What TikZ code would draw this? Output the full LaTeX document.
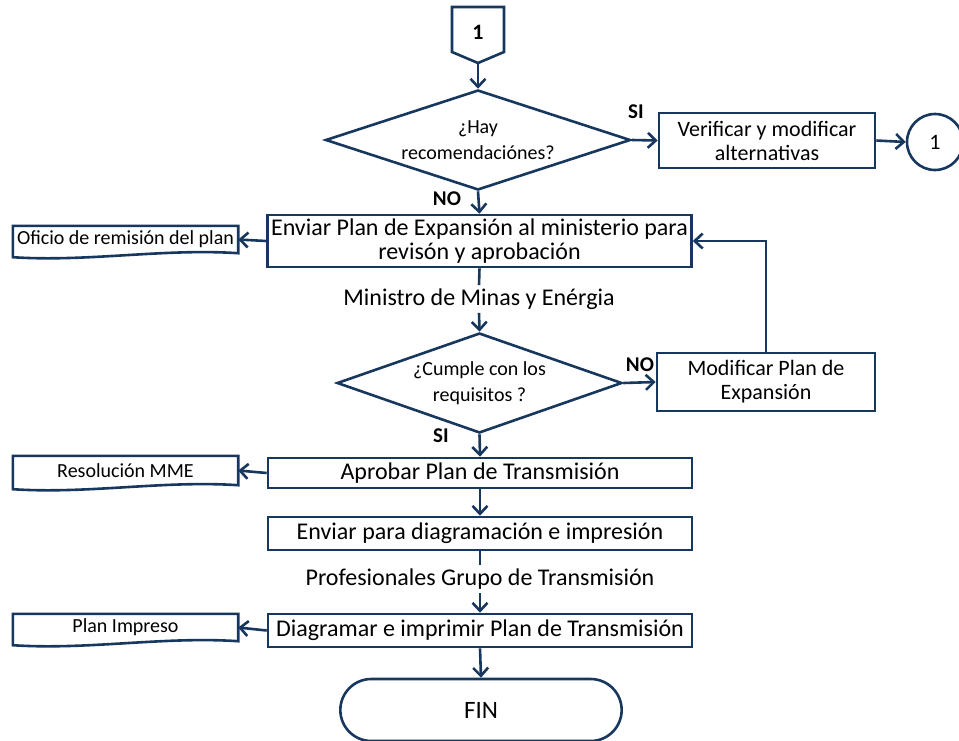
\documentclass[tikz,border=0pt]{standalone}
\usepackage{fontspec}
\setmainfont{Carlito}
\usetikzlibrary{shapes.geometric,shapes.misc,arrows.meta}
\definecolor{navy}{RGB}{23,55,94}

\begin{document}
\begin{tikzpicture}[x=1pt,y=-1pt,
  line/.style={draw=navy,line width=2.6pt},
  flow/.style={line,-{Straight Barb[length=8pt,width=15pt]}},
  proc/.style={line,rectangle,inner sep=0pt,align=center,font=\fontsize{24}{24}\selectfont},
  decision/.style={line,diamond,aspect=3,inner sep=0pt,align=center,font=\fontsize{20}{26}\selectfont},
  doc/.style={rectangle,inner sep=0pt,minimum width=225pt,align=center,font=\fontsize{20}{22}\selectfont},
  tag/.style={font=\fontsize{21}{22}\selectfont\bfseries}]

\useasboundingbox (0,0) rectangle (959,740);

\node [font=\fontsize{22}{24}\selectfont\bfseries] (conn) at (478,32) {1};
\coordinate (conntip) at (478,63);
\draw [line] (452,7) -- (504,7) -- (504,52) -- (conntip) -- (452,52) -- cycle;

\node [decision,minimum width=305pt,minimum height=100pt] (hay) at (478,140) {¿Hay\\recomendaciónes?};
\node [proc,minimum width=216pt,minimum height=55pt,font=\fontsize{22}{24}\selectfont] (verificar) at (767,140.5) {Verificar y modificar\\alternativas};
\node [line,circle,minimum size=56pt,inner sep=0pt,font=\fontsize{22}{24}\selectfont] (uno) at (935,142) {1};

\node [proc,minimum width=424pt,minimum height=52pt] (enviar) at (479.5,241) {Enviar Plan de Expansión al ministerio para\\revisón y aprobación};
\node [doc,minimum height=27pt] (oficio) at (125.5,239.5) {Oficio de remisión del plan};
\node [font=\fontsize{24}{24}\selectfont] (ministro) at (479,299) {Ministro de Minas y Enérgia};

\node [decision,minimum width=285pt,minimum height=100pt] (cumple) at (479.5,383) {¿Cumple con los\\requisitos ?};
\node [proc,minimum width=218pt,minimum height=58pt,font=\fontsize{22}{24}\selectfont] (modificar) at (766,382) {Modificar Plan de\\Expansión};

\node [proc,minimum width=424pt,minimum height=30pt] (aprobar) at (480,473) {Aprobar Plan de Transmisión};
\node [doc,minimum height=29pt] (resol) at (125.5,470.5) {Resolución MME};

\node [proc,minimum width=424pt,minimum height=33pt] (envdiag) at (480,533.5) {Enviar para diagramación e impresión};
\node [font=\fontsize{24}{24}\selectfont] (profes) at (480,579) {Profesionales Grupo de Transmisión};

\node [proc,minimum width=424pt,minimum height=33pt] (diagramar) at (480,630.5) {Diagramar e imprimir Plan de Transmisión};
\node [doc,minimum height=27pt] (impreso) at (125.5,627.5) {Plan Impreso};

\node [line,rounded rectangle,minimum width=288pt,minimum height=62pt,font=\fontsize{25}{26}\selectfont] (fin) at (481,710) {FIN};

\node [tag] (si1) at (636,112) {SI};
\node [tag] (no1) at (447,199) {NO};
\node [tag] (no2) at (640,365) {NO};
\node [tag] (si2) at (441,436) {SI};

\foreach \d in {oficio,resol,impreso}
  \draw [line] (\d.north west) -- (\d.north east) -- (\d.south east)
    .. controls +(-75,-5) and +(75,5) .. ([yshift=-4pt]\d.south west) -- cycle;

\draw [flow] (conntip) -- (hay.north);
\draw [flow] (hay.east) -- (verificar.west);
\draw [flow] (verificar.east) -- (uno.west);
\draw [flow] (hay.south) -- (enviar.north);
\draw [flow] (enviar.west) -- (oficio.east);
\draw [line] (enviar.south) -- (ministro.north);
\draw [flow] (ministro.south) -- (cumple.north);
\draw [flow] (cumple.east) -- (modificar.west);
\draw [flow] (modificar.north) |- (enviar.east);
\draw [flow] (cumple.south) -- (aprobar.north);
\draw [flow] (aprobar.west) -- (resol.east);
\draw [flow] (aprobar.south) -- (envdiag.north);
\draw [line] (envdiag.south) -- (profes.north);
\draw [flow] (profes.south) -- (diagramar.north);
\draw [flow] (diagramar.west) -- (impreso.east);
\draw [flow] (diagramar.south) -- (fin.north);
\end{tikzpicture}
\end{document}
